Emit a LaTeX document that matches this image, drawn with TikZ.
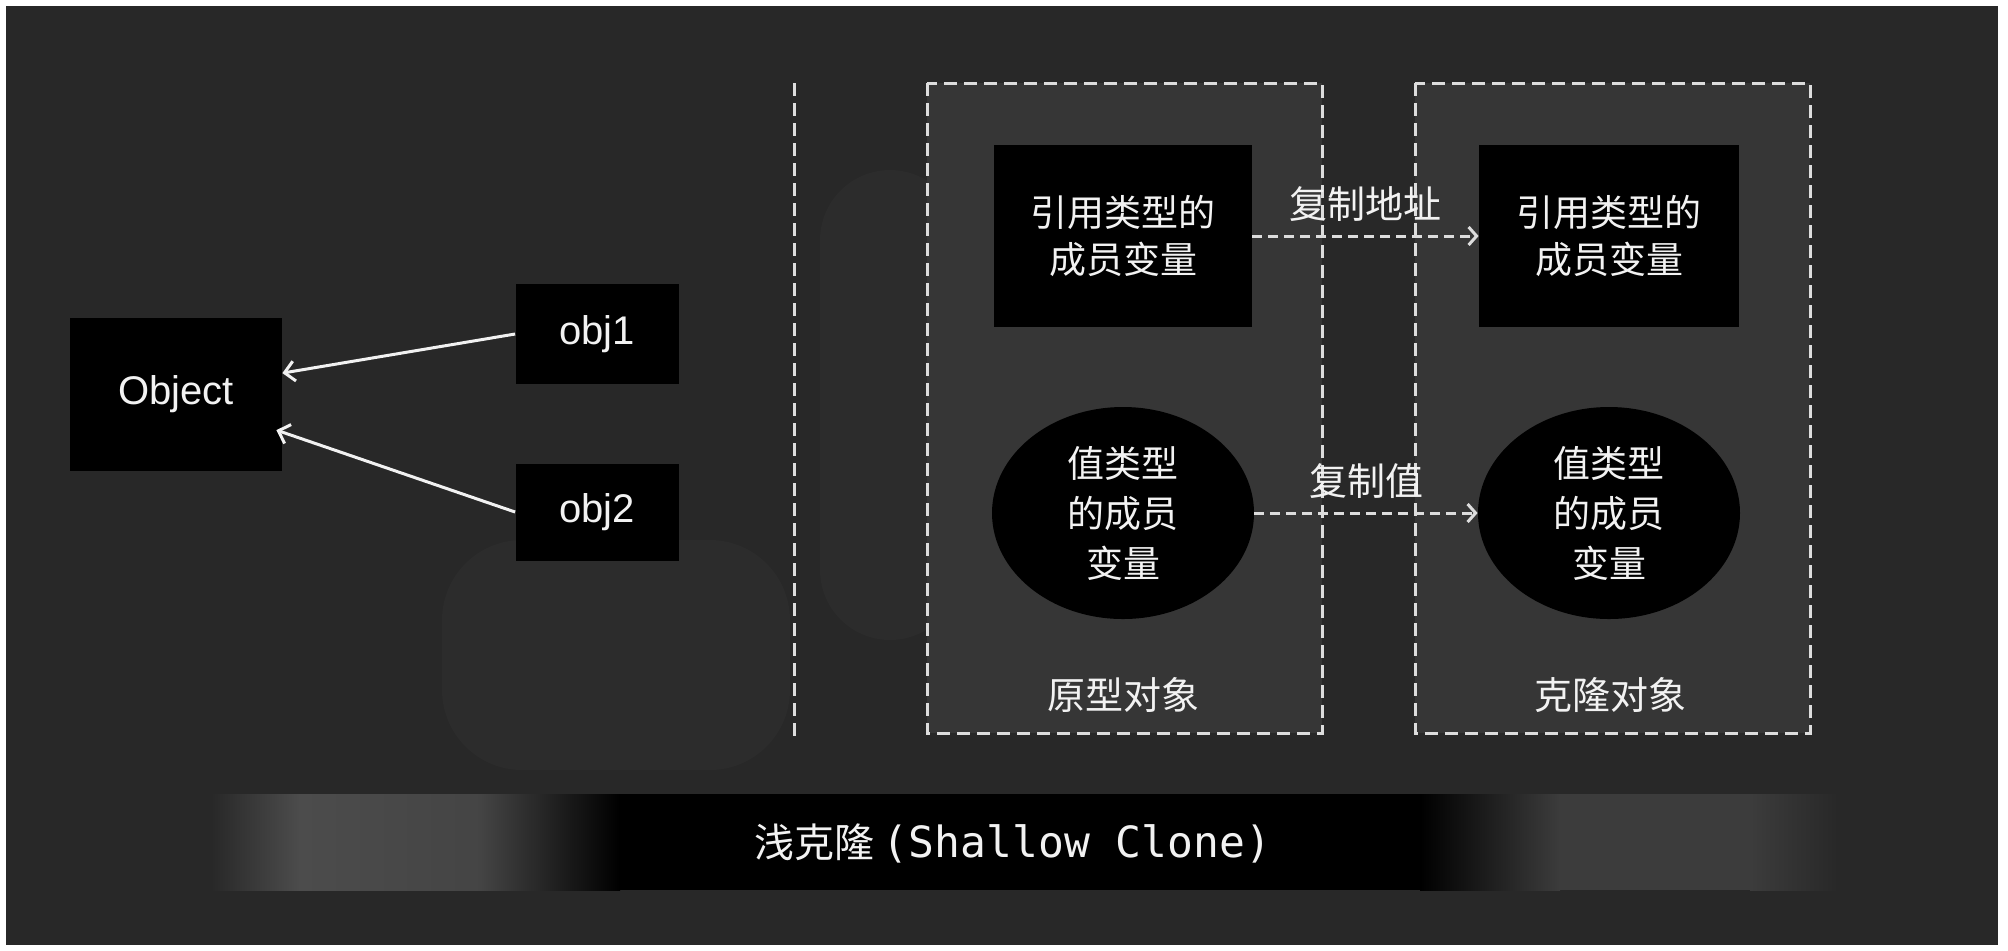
\documentclass[tikz,border=0pt]{standalone}
\usepackage{fontspec}
\setmainfont{Liberation Sans}
\newfontfamily\cjk{Noto Sans CJK SC}
\newfontfamily\monofont{DejaVu Sans Mono}
\usetikzlibrary{arrows.meta,shapes.geometric,calc}
\definecolor{bgc}{HTML}{282828}
\definecolor{bgshape}{HTML}{2C2C2C}
\definecolor{panel}{HTML}{363636}
\definecolor{dashc}{HTML}{DDDDDD}
\definecolor{barl}{HTML}{4C4C4C}
\definecolor{barr}{HTML}{3C3C3C}
\definecolor{txt}{HTML}{F2F2F2}
\begin{document}
\begin{tikzpicture}[x=0.5pt,y=-0.5pt,
  blk/.style={fill=black,text=txt,inner sep=0pt,align=center},
  latinfs/.style={font=\fontsize{20}{24}\selectfont},
  cjkbox/.style={font=\cjk\fontsize{18.5}{23.5}\selectfont},
  cjkell/.style={font=\cjk\fontsize{18.5}{25}\selectfont},
  lbl/.style={text=txt,inner sep=1pt,font=\cjk\fontsize{19}{23}\selectfont},
  dashbox/.style={draw=dashc,fill=panel,line width=1.5pt,dash pattern=on 6.5pt off 3.5pt},
  dashline/.style={draw=dashc,line width=1.5pt,dash pattern=on 6.5pt off 3.5pt},
  warrow/.style={draw=txt,line width=1.5pt,-{Straight Barb[length=5pt,width=10pt]}},
  darrow/.style={draw=dashc,line width=1.5pt,dash pattern=on 5pt off 3pt,-{Straight Barb[length=4pt,width=9pt]}}
]
\useasboundingbox (0,0) rectangle (2008,950);
\fill[white] (0,0) rectangle (2008,950);
\fill[bgc] (6,6) rectangle (1998,945);

% faint background shapes
\fill[bgshape,rounded corners=40pt] (442,540) rectangle (790,770);
\fill[bgshape,rounded corners=35pt] (820,170) rectangle (960,640);

% panels
\draw[dashbox] (927,83) rectangle (1322,733);
\draw[dashbox] (1415,83) rectangle (1810,733);

% divider
\coordinate (d1) at (794,83);
\coordinate (d2) at (794,743);
\draw[dashline] (d1) -- (d2);

% left side
\node[blk,latinfs,minimum width=106pt,minimum height=76.5pt] (object) at (176,394) {Object};
\node[blk,latinfs,minimum width=81.5pt,minimum height=50pt] (obj1) at (597,334) {obj1};
\node[blk,latinfs,minimum width=81.5pt,minimum height=48.5pt] (obj2) at (597,512) {obj2};
\draw[warrow] (obj1.west) -- ($(object.north east)+(0,56)$);
\draw[warrow] (obj2.west) -- ($(object.north east)+(-6,113)$);

% right side
\node[blk,cjkbox,minimum width=129pt,minimum height=91pt] (ref1) at (1123,236) {引用类型的\\成员变量};
\node[blk,cjkbox,minimum width=130pt,minimum height=91pt] (ref2) at (1609,236) {引用类型的\\成员变量};
\node[blk,cjkell,ellipse,minimum width=131pt,minimum height=106pt] (val1) at (1123,513) {值类型\\的成员\\变量};
\node[blk,cjkell,ellipse,minimum width=131pt,minimum height=106pt] (val2) at (1609,513) {值类型\\的成员\\变量};
\node[lbl] (lab1) at (1123,695) {原型对象};
\node[lbl] (lab2) at (1610,695) {克隆对象};

\draw[darrow] (ref1.east) -- (ref2.west) node[lbl,midway,yshift=16pt] (cpaddr) {复制地址};
\draw[darrow] (val1.east) -- (val2.west) node[lbl,midway,yshift=16pt] (cpval) {复制值};

% bottom bar
\shade[left color=bgc,right color=barl] (211,794) rectangle (300,890);
\shade[left color=barl,right color=barl!90!black] (300,794) rectangle (480,890);
\shade[left color=barl!90!black,right color=black] (480,794) rectangle (620,890);
\fill[black] (619,794) rectangle (1421,890);
\shade[left color=black,right color=barr] (1420,794) rectangle (1560,890);
\fill[barr] (1559,794) rectangle (1751,890);
\shade[left color=barr,right color=bgc] (1750,794) rectangle (1838,890);
\node[text=txt,inner sep=0pt,font=\fontsize{21.5}{26}\selectfont] (title) at (1013,843) {{\cjk\fontsize{20}{26}\selectfont 浅克隆}\hspace{4pt}{\monofont (Shallow Clone)}};
\end{tikzpicture}
\end{document}
